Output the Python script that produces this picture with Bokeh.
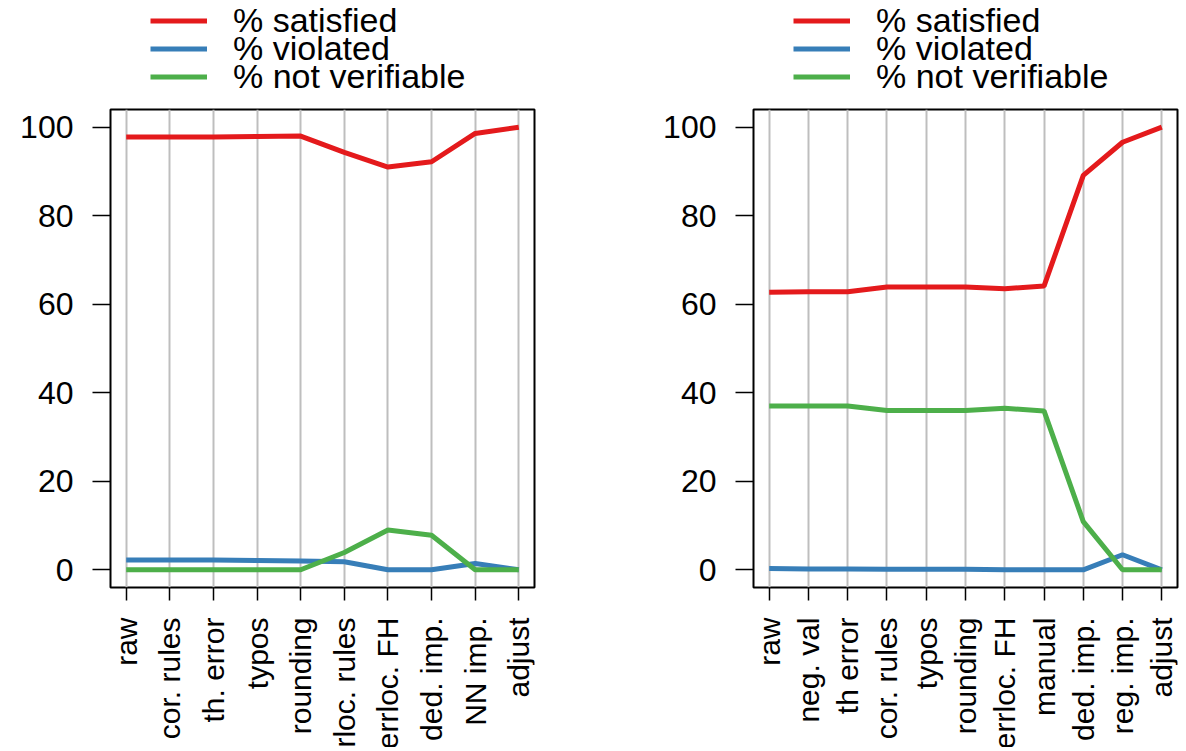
import math
from bokeh.plotting import figure
from bokeh.models import (Range1d, FixedTicker, Legend, LegendItem,
                          ColumnDataSource, CustomLabelingPolicy)
from bokeh.layouts import row, column
from bokeh.core.properties import value
from bokeh.embed import file_html
from bokeh.resources import INLINE

# ---------------- data ----------------
left_categories = ["raw", "cor. rules", "th. error", "typos", "rounding",
                   "errloc. rules", "errloc. FH", "ded. imp.", "NN imp.", "adjust"]
left_satisfied = [97.8, 97.8, 97.8, 97.9, 98.0, 94.3, 91.0, 92.2, 98.6, 100.0]
left_violated = [2.2, 2.2, 2.2, 2.1, 2.0, 1.8, 0.0, 0.0, 1.4, 0.0]
left_not_verifiable = [0.0, 0.0, 0.0, 0.0, 0.0, 3.9, 9.0, 7.8, 0.0, 0.0]

right_categories = ["raw", "neg. val", "th error", "cor. rules", "typos", "rounding",
                    "errloc. FH", "manual", "ded. imp.", "reg. imp.", "adjust"]
right_satisfied = [62.7, 62.8, 62.8, 63.9, 63.9, 63.9, 63.5, 64.1, 89.1, 96.6, 100.0]
right_violated = [0.3, 0.2, 0.2, 0.1, 0.1, 0.1, 0.0, 0.0, 0.0, 3.4, 0.0]
right_not_verifiable = [37.0, 37.0, 37.0, 36.0, 36.0, 36.0, 36.5, 35.9, 10.9, 0.0, 0.0]

series_labels = ["% satisfied", "% violated", "% not verifiable"]
series_colors = ["#E41A1C", "#377EB8", "#4DAF4A"]
y_ticks = [0, 20, 40, 60, 80, 100]

FONT = "Liberation Sans"
LEG_H = 105
LEG_ROW_BOTTOMS = [65, 37, 9]   # screen offsets of the three legend rows
TOP_BORDER = 4
FRAME_H = 478
BOTTOM_BORDER = 30
BOT_H = 130


def clean(fig):
    fig.axis.visible = False
    fig.grid.visible = False
    fig.outline_line_color = None
    fig.background_fill_color = "white"
    fig.border_fill_color = "white"


def make_panel(cats, sat, vio, nv, width, border_left, border_right):
    n = len(cats)
    xs = list(range(1, n + 1))
    pad = 0.04 * (n - 1)
    xr = Range1d(1 - pad, n + pad)
    series = [sat, vio, nv]

    # ---- legend strip (series drawn out of view, used as legend proxies) ----
    lg = figure(width=width, height=LEG_H, x_range=xr, y_range=Range1d(1000, 1001),
                output_backend="svg", toolbar_location=None, min_border=0,
                min_border_left=border_left, min_border_right=border_right)
    clean(lg)
    proxies = [lg.line(xs, vals, line_color=c, line_width=5)
               for vals, c in zip(series, series_colors)]
    for lab, r, yb in zip(series_labels, proxies, LEG_ROW_BOTTOMS):
        legend = Legend(items=[LegendItem(label=lab, renderers=[r])],
                        location=(40, yb), orientation="vertical",
                        glyph_width=57, glyph_height=27, label_height=27,
                        label_standoff=26, spacing=0, padding=0, margin=0,
                        background_fill_alpha=0, border_line_alpha=0,
                        label_text_font=FONT, label_text_font_size="34px",
                        label_text_color="black")
        lg.add_layout(legend, "center")

    # ---- main plot ----
    p = figure(width=width, height=TOP_BORDER + FRAME_H + BOTTOM_BORDER,
               x_range=xr, y_range=Range1d(-4, 104),
               output_backend="svg", toolbar_location=None,
               min_border_left=border_left, min_border_right=border_right,
               min_border_top=TOP_BORDER, min_border_bottom=BOTTOM_BORDER)
    p.background_fill_color = "white"
    p.border_fill_color = "white"
    p.outline_line_color = "black"
    p.outline_line_width = 2
    p.outline_line_alpha = 1

    p.xgrid.ticker = FixedTicker(ticks=xs)
    p.xgrid.grid_line_color = "#BEBEBE"
    p.xgrid.grid_line_width = 2
    p.ygrid.visible = False

    p.yaxis.ticker = FixedTicker(ticks=y_ticks)
    p.yaxis.axis_line_color = None
    p.yaxis.major_tick_out = 18
    p.yaxis.major_tick_in = 0
    p.yaxis.minor_tick_out = 0
    p.yaxis.minor_tick_in = 0
    p.yaxis.major_tick_line_color = "black"
    p.yaxis.major_tick_line_width = 1.5
    p.yaxis.major_label_standoff = 19
    p.yaxis.major_label_text_font = FONT
    p.yaxis.major_label_text_font_size = "32px"
    p.yaxis.major_label_text_color = "black"

    # x axis: tick marks only, category names are drawn below as rotated text
    p.xaxis.ticker = FixedTicker(ticks=xs)
    p.xaxis.axis_line_color = None
    p.xaxis.major_tick_out = 13
    p.xaxis.major_tick_in = 0
    p.xaxis.minor_tick_out = 0
    p.xaxis.minor_tick_in = 0
    p.xaxis.major_tick_line_color = "black"
    p.xaxis.major_tick_line_width = 1.5
    p.xaxis.major_label_standoff = 0
    p.xaxis.major_label_text_font_size = "2px"
    p.xaxis.major_label_policy = CustomLabelingPolicy(code="return new Set()")

    for vals, col in zip(series, series_colors):
        p.line(xs, vals, line_color=col, line_width=5)

    # ---- category labels strip ----
    b = figure(width=width, height=BOT_H, x_range=xr, y_range=Range1d(0, BOT_H),
               output_backend="svg", toolbar_location=None,
               min_border=0, min_border_left=border_left, min_border_right=border_right)
    clean(b)
    src = ColumnDataSource(dict(x=xs, y=[BOT_H] * n, text=cats))
    b.text(x="x", y="y", text="text", source=src, angle=math.pi / 2,
           text_align="right", text_baseline="middle",
           text_font=value(FONT), text_font_size=value("30px"),
           text_color="black")
    return column(lg, p, b, spacing=0)


c1 = make_panel(left_categories, left_satisfied, left_violated, left_not_verifiable,
                585, 110, 51)
c2 = make_panel(right_categories, right_satisfied, right_violated, right_not_verifiable,
                595, 168, 3)
layout = row(c1, c2, spacing=0)

open("out.html", "w").write(file_html(layout, INLINE))
